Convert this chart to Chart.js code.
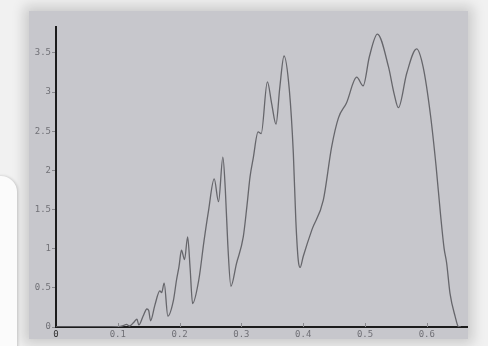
<!DOCTYPE html>
<html>
<head>
<meta charset="utf-8">
<script src="https://cdn.jsdelivr.net/npm/chart.js@4/dist/chart.umd.min.js"></script>
<style>
  html, body { margin: 0; padding: 0; }
  body { width: 488px; height: 346px; overflow: hidden; position: relative; background: #f1f1f1; }
  #panel { position: absolute; left: 29px; top: 11px; width: 439px; height: 328px;
           background: #c7c7cc; box-shadow: 0 0 12px 5px rgba(0,0,0,0.16); }
  #tab { position: absolute; left: -14px; top: 176px; width: 31px; height: 200px;
         background: #fbfbfb; border-radius: 0 16px 0 0; box-shadow: 1px 0 3px rgba(0,0,0,0.18); }
  #chart { position: absolute; left: 0; top: 0; }
</style>
</head>
<body>
<div id="panel"></div>
<div id="tab"></div>
<canvas id="chart" width="488" height="346"></canvas>
<script>
// Curve samples (x position, y value)
const xs = [0, 0.05, 0.1, 0.109, 0.114, 0.119, 0.126, 0.131, 0.134, 0.141, 0.147, 0.150, 0.153,
  0.160, 0.168, 0.171, 0.175, 0.181, 0.190, 0.195, 0.199, 0.203, 0.208, 0.213, 0.217, 0.221,
  0.231, 0.2395, 0.2465, 0.256, 0.263, 0.270, 0.274, 0.278, 0.283, 0.292, 0.303, 0.309, 0.314,
  0.319, 0.327, 0.332, 0.342, 0.349, 0.356, 0.362, 0.369, 0.3775, 0.384, 0.388, 0.392, 0.395,
  0.400, 0.414, 0.4325, 0.446, 0.457, 0.470, 0.4865, 0.497, 0.507, 0.520, 0.538, 0.547, 0.554,
  0.5675, 0.5835, 0.594, 0.606, 0.615, 0.622, 0.628, 0.632, 0.6375, 0.646, 0.651, 0.655];
const ys = [0, 0, 0.004, 0.017, 0.034, 0.013, 0.06, 0.10, 0.026, 0.14, 0.23, 0.21, 0.08,
  0.28, 0.46, 0.44, 0.56, 0.14, 0.34, 0.60, 0.77, 0.98, 0.86, 1.15, 0.75, 0.30,
  0.60, 1.10, 1.47, 1.89, 1.60, 2.17, 1.75, 1.05, 0.52, 0.81, 1.15, 1.55, 1.92,
  2.15, 2.49, 2.47, 3.13, 2.85, 2.59, 3.05, 3.46, 3.03, 2.22, 1.37, 0.85, 0.76,
  0.90, 1.24, 1.62, 2.30, 2.67, 2.86, 3.19, 3.08, 3.45, 3.74, 3.32, 2.98, 2.80,
  3.24, 3.55, 3.32, 2.70, 2.05, 1.45, 1.00, 0.82, 0.43, 0.13, 0.005, 0];

// Axis ticks
const xTicks = [0, 0.1, 0.2, 0.3, 0.4, 0.5, 0.6];
const xTickLabels = ['0', '0.1', '0.2', '0.3', '0.4', '0.5', '0.6'];
const yTicks = [0, 0.5, 1, 1.5, 2, 2.5, 3, 3.5];
const yTickLabels = ['0', '0.5', '1', '1.5', '2', '2.5', '3', '3.5'];

const points = xs.map((x, i) => ({ x: x, y: ys[i] }));
const tickFont = { family: 'DejaVu Sans Mono', size: 9 };

// Short x tick marks pointing up into the plot
const innerTicks = {
  id: 'innerTicks',
  afterDatasetsDraw(chart) {
    const ctx = chart.ctx, sx = chart.scales.x, bottom = chart.chartArea.bottom;
    ctx.save();
    ctx.strokeStyle = '#8a8a8e';
    ctx.lineWidth = 1;
    xTicks.forEach(v => {
      if (v === 0) return;
      const px = Math.round(sx.getPixelForValue(v)) + 0.5;
      ctx.beginPath();
      ctx.moveTo(px, bottom - 4);
      ctx.lineTo(px, bottom);
      ctx.stroke();
    });
    ctx.restore();
  }
};

new Chart(document.getElementById('chart'), {
  type: 'line',
  data: {
    datasets: [{
      data: points,
      borderColor: '#66666b',
      borderWidth: 1.3,
      pointRadius: 0,
      fill: false,
      cubicInterpolationMode: 'monotone'
    }]
  },
  options: {
    responsive: false,
    animation: false,
    layout: { padding: { top: 27, right: 21, left: 0, bottom: 0 } },
    plugins: { legend: { display: false }, tooltip: { enabled: false } },
    scales: {
      x: {
        type: 'linear',
        min: 0,
        max: 0.665,
        afterBuildTicks: s => { s.ticks = xTicks.map(v => ({ value: v })); },
        afterFit: s => { s.height = 19; },
        ticks: {
          callback: (v, i) => xTickLabels[i],
          font: tickFont,
          color: c => (c.index === 0 ? '#303030' : '#707076'),
          padding: 2,
          maxRotation: 0,
          autoSkip: false
        },
        grid: { drawOnChartArea: false, drawTicks: false },
        border: { display: true, color: '#1c1c1c', width: 2 }
      },
      y: {
        type: 'linear',
        min: 0,
        max: 3.83,
        afterBuildTicks: s => { s.ticks = yTicks.map(v => ({ value: v })); },
        afterFit: s => { s.width = 56; },
        ticks: {
          callback: (v, i) => yTickLabels[i],
          font: tickFont,
          color: '#707076',
          padding: 1,
          autoSkip: false
        },
        grid: { drawOnChartArea: false, drawTicks: true, tickLength: 4, color: '#8a8a8e' },
        border: { display: true, color: '#1c1c1c', width: 2 }
      }
    }
  },
  plugins: [innerTicks]
});
</script>
</body>
</html>
